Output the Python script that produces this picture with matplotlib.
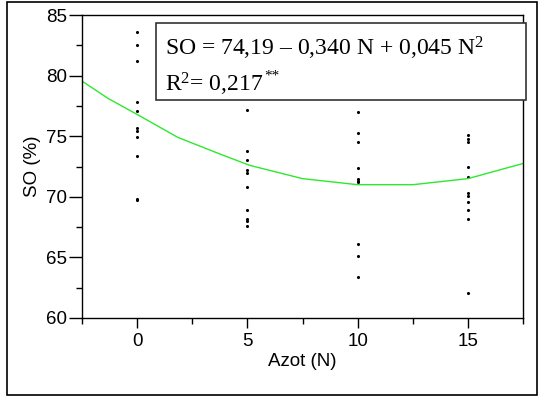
import matplotlib.pyplot as plt
from matplotlib.patches import Rectangle
from matplotlib.ticker import MultipleLocator

plt.rcParams["font.family"] = ["Liberation Sans", "DejaVu Sans"]
plt.rcParams["mathtext.fontset"] = "custom"
plt.rcParams["mathtext.rm"] = "Liberation Serif"
plt.rcParams["mathtext.it"] = "Liberation Serif"

# observations per nitrogen dose
n0 = [83.6, 82.5, 81.2, 77.8, 77.1, 75.7, 75.4, 74.9, 73.4, 69.8, 69.7]
n5 = [77.2, 73.8, 73.0, 72.2, 72.0, 70.8, 68.9, 68.2, 68.0, 67.6]
n10 = [77.0, 75.3, 74.5, 72.4, 71.5, 71.3, 71.2, 66.1, 65.1, 63.4]
n15 = [75.1, 74.8, 74.5, 72.5, 71.6, 70.3, 70.1, 69.6, 68.9, 68.2, 62.1]
doses = [0, 5, 10, 15]

# fitted curve
curve_x = [-2.5, -1.3, 0, 1.85, 3.8, 5.1, 7.5, 10, 12.5, 15, 16.7, 17.5]
curve_y = [79.55, 78.1, 76.8, 74.9, 73.5, 72.6, 71.5, 71.0, 71.0, 71.5, 72.35, 72.75]

fig = plt.figure(figsize=(5.42, 3.96), dpi=100)
fig.patches.append(Rectangle((7 / 542, 1 / 396), 530 / 542, 393 / 396,
                             transform=fig.transFigure, fill=False,
                             edgecolor="black", linewidth=1.2))

ax = fig.add_axes([0.1513, 0.197, 0.8137, 0.765])

for d, vals in zip(doses, [n0, n5, n10, n15]):
    ax.scatter([d] * len(vals), vals, s=5, color="black", marker="o", linewidths=0)

ax.plot(curve_x, curve_y, color="#2ee82e", linewidth=1.0)

ax.set_xlim(-2.5, 17.5)
ax.set_ylim(60, 85)
ax.xaxis.set_major_locator(MultipleLocator(5))
ax.xaxis.set_minor_locator(MultipleLocator(2.5))
ax.yaxis.set_major_locator(MultipleLocator(5))
ax.yaxis.set_minor_locator(MultipleLocator(2.5))
ax.tick_params(axis="x", which="major", length=7, width=1, pad=4, labelsize=13.5)
ax.tick_params(axis="y", which="major", length=9.5, width=1, pad=1, labelsize=13.5)
ax.tick_params(which="minor", length=4.3, width=1)
for s in ax.spines.values():
    s.set_linewidth(1)

ax.set_xlabel("Azot (N)", fontsize=13.5, labelpad=2)
ax.set_ylabel("SO (%)", fontsize=13.5, labelpad=4)

fig.patches.append(Rectangle((156 / 542, 1 - 100 / 396), 370 / 542, 77 / 396,
                             transform=fig.transFigure, facecolor="white",
                             edgecolor="#333333", linewidth=1.2, zorder=5))
fig.text(165 / 542, 1 - 56 / 396,
         r"SO = 74,19 – 0,340 N + 0,045 N$^{2}$",
         fontsize=17, family="Liberation Serif", zorder=6)
r2 = fig.text(165 / 542, 1 - 91 / 396, r"R$^{2}$= 0,217",
              fontsize=17, family="Liberation Serif", zorder=6)
renderer = fig.canvas.get_renderer()
bb = r2.get_window_extent(renderer=renderer)
fig.text(bb.x1 / 542 + 0.002, 1 - 80 / 396, "**",
         fontsize=11, family="Liberation Serif", zorder=6)

fig.savefig("out.png", dpi=100)
